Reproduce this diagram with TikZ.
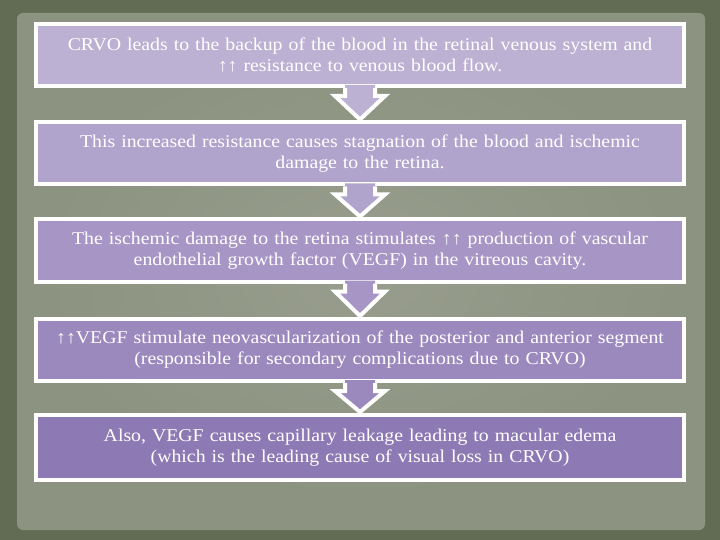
\documentclass[tikz,border=0pt]{standalone}
\usepackage{fontspec}
\setmainfont[FakeStretch=1.1]{Liberation Serif}
\usetikzlibrary{calc}
\definecolor{outerbg}{RGB}{98,108,84}
\definecolor{paperbg}{RGB}{140,147,128}
\definecolor{paperlt}{RGB}{152,157,141}
\definecolor{boxA}{RGB}{188,177,211}
\definecolor{boxB}{RGB}{177,164,204}
\definecolor{boxC}{RGB}{167,150,197}
\definecolor{boxD}{RGB}{155,137,190}
\definecolor{boxE}{RGB}{141,122,180}
\newcommand{\flowarrow}[3]{%
  \fill[#3] let \p1=(#1.south), \p2=(#2.north) in
    (\x1-15pt,\y1+3pt) -- (\x1-15pt,\y1-8pt) -- (\x1-25pt,\y1-8pt) -- (\x2,\y2+1pt)
    -- (\x1+25pt,\y1-8pt) -- (\x1+15pt,\y1-8pt) -- (\x1+15pt,\y1+3pt) -- cycle;
  \draw[white, line width=4pt] let \p1=(#1.south), \p2=(#2.north) in
    (\x1-15pt,\y1) -- (\x1-15pt,\y1-8pt) -- (\x1-25pt,\y1-8pt) -- (\x2,\y2+1pt)
    -- (\x1+25pt,\y1-8pt) -- (\x1+15pt,\y1-8pt) -- (\x1+15pt,\y1);
}
\begin{document}
\begin{tikzpicture}[x=1pt, y=-1pt, font=\fontsize{18}{21}\selectfont,
    stepbox/.style={draw=white, line width=4pt, text=white, align=center,
      minimum width=648pt, minimum height=62pt, text width=640pt, inner sep=0pt}]
    % background
    \fill[outerbg] (0,0) rectangle (720,540);
    \fill[paperbg, rounded corners=6pt] (17,13) rectangle (705,530);
    \shade[inner color=paperlt, outer color=paperbg] (40,40) rectangle (680,500);
    % steps
    \node[stepbox, fill=boxA] (s1) at (360,55) {CRVO leads to the backup of the blood in the retinal venous system and\\ ↑↑ resistance to venous blood flow.};
    \node[stepbox, fill=boxB] (s2) at (360,153.5) {This increased resistance causes stagnation of the blood and ischemic\\ damage to the retina.};
    \node[stepbox, fill=boxC] (s3) at (360,250.5) {The ischemic damage to the retina stimulates ↑↑ production of vascular\\ endothelial growth factor (VEGF) in the vitreous cavity.};
    \node[stepbox, fill=boxD] (s4) at (360,350) {↑↑VEGF stimulate neovascularization of the posterior and anterior segment\\ (responsible for secondary complications due to CRVO)};
    \node[stepbox, fill=boxE, minimum height=65pt] (s5) at (360,447.5) {Also, VEGF causes capillary leakage leading to macular edema\\ (which is the leading cause of visual loss in CRVO)};
    % arrows
    \flowarrow{s1}{s2}{boxA}
    \flowarrow{s2}{s3}{boxB}
    \flowarrow{s3}{s4}{boxC}
    \flowarrow{s4}{s5}{boxD}
\end{tikzpicture}
\end{document}
